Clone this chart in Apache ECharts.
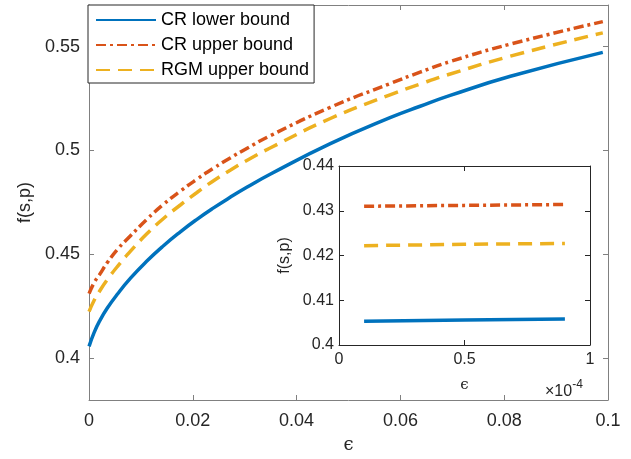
<!DOCTYPE html>
<html>
<head>
<meta charset="utf-8">
<script src="https://cdn.jsdelivr.net/npm/echarts@6/dist/echarts.min.js"></script>
<style>html,body{margin:0;padding:0;background:#fff}#c{width:631px;height:459px}</style>
</head>
<body>
<div id="c"></div>
<script>
// ---- data ----
const mainX    = [0.00001, 0.001, 0.002, 0.0035, 0.0055, 0.008, 0.0111, 0.0143, 0.0176, 0.0208, 0.024, 0.0272, 0.0304, 0.0349, 0.0465, 0.058, 0.0638, 0.0696, 0.0812, 0.099];
const crLower  = [0.4058, 0.4125, 0.4178, 0.4241, 0.4310, 0.4386, 0.4467, 0.4541, 0.4609, 0.4669, 0.4724, 0.4775, 0.4823, 0.4886, 0.5033, 0.5158, 0.5213, 0.5265, 0.5357, 0.5472];
const crUpper  = [0.4312, 0.4365, 0.4402, 0.4460, 0.4525, 0.4590, 0.4668, 0.4740, 0.4805, 0.4862, 0.4915, 0.4964, 0.5010, 0.5071, 0.5208, 0.5322, 0.5377, 0.5428, 0.5512, 0.5620];
const rgmUpper = [0.4225, 0.4280, 0.4322, 0.4378, 0.4443, 0.4516, 0.4598, 0.4672, 0.4738, 0.4798, 0.4855, 0.4905, 0.4952, 0.5012, 0.5154, 0.5268, 0.5320, 0.5368, 0.5454, 0.5566];

const insetX        = [0.1, 0.5, 0.9];      // in units of 1e-4
const insetCrLower  = [0.4053, 0.4056, 0.4058];
const insetCrUpper  = [0.4310, 0.4312, 0.4314];
const insetRgmUpper = [0.4222, 0.4225, 0.4227];

const mainYTicks = [0.4, 0.45, 0.5, 0.55];
const seriesNames = ['CR lower bound', 'CR upper bound', 'RGM upper bound'];

// ---- styles ----
const colors = ['#0072BD', '#D95319', '#EDB120'];
const dashes = ['solid', [10, 4, 3, 4], [14, 8]];
const FONT = 'Liberation Sans';
const TXT = '#262626';
const fmt = v => String(+v.toFixed(4));

function pairs(xs, ys) { return xs.map((x, i) => [x, ys[i]]); }

const chart = echarts.init(document.getElementById('c'), null, {renderer: 'canvas'});

function xAx(grid, pos, min, max, interval, showLabel, fs, color, extra) {
  return Object.assign({
    type: 'value', gridIndex: grid, position: pos, min, max, interval,
    axisLine: {show: true, onZero: false, lineStyle: {color, width: 1}},
    axisTick: {show: true, inside: true, length: 5, lineStyle: {color}},
    axisLabel: {show: showLabel, fontSize: fs, color: TXT, fontFamily: FONT, formatter: fmt},
    splitLine: {show: false}
  }, extra || {});
}

const lineW = 3.5;
const mainSeries = [crLower, crUpper, rgmUpper].map((ys, i) => ({
  name: seriesNames[i], type: 'line', xAxisIndex: 0, yAxisIndex: 0,
  data: pairs(mainX, ys), symbol: 'none', smooth: 0.5,
  lineStyle: {color: colors[i], width: lineW, type: dashes[i], cap: 'butt'},
  itemStyle: {color: colors[i]}, z: 3
}));
const insetSeries = [insetCrLower, insetCrUpper, insetRgmUpper].map((ys, i) => ({
  name: seriesNames[i], type: 'line', xAxisIndex: 2, yAxisIndex: 2,
  data: pairs(insetX, ys), symbol: 'none',
  lineStyle: {color: colors[i], width: lineW, type: dashes[i], cap: 'butt'},
  itemStyle: {color: colors[i]}, z: 5
}));

const option = {
  animation: false,
  backgroundColor: '#fff',
  textStyle: {fontFamily: FONT},
  grid: [
    {left: 89, right: 23, top: 5, bottom: 52, show: false},
    {left: 339, right: 41, top: 166, bottom: 114, show: true, backgroundColor: '#fff', borderWidth: 0, z: 4}
  ],
  legend: {
    data: seriesNames, orient: 'vertical', left: 88, top: 5,
    backgroundColor: '#fff', borderColor: TXT, borderWidth: 1,
    padding: [6, 5, 4, 7], itemWidth: 60, itemHeight: 14, itemGap: 7,
    itemStyle: {opacity: 0},
    textStyle: {fontSize: 18, color: '#000', fontFamily: FONT},
    selectedMode: false, z: 10
  },
  xAxis: [
    xAx(0, 'bottom', 0, 0.1, 0.02, true, 18, '#808080', {
      axisLabel: {show: true, fontSize: 18, color: TXT, fontFamily: FONT, margin: 12, formatter: fmt},
      name: 'ϵ', nameLocation: 'middle', nameGap: 36,
      nameTextStyle: {fontSize: 18, color: TXT, fontFamily: 'DejaVu Serif'}
    }),
    xAx(0, 'top', 0, 0.1, 0.02, false, 18, '#808080'),
    xAx(1, 'bottom', 0, 1, 0.5, true, 16, TXT, {
      axisLabel: {show: true, fontSize: 16, color: TXT, fontFamily: FONT, margin: 7, formatter: fmt},
      name: 'ϵ', nameLocation: 'middle', nameGap: 33,
      nameTextStyle: {fontSize: 15, color: TXT, fontFamily: 'DejaVu Serif'}, z: 6
    }),
    xAx(1, 'top', 0, 1, 0.5, false, 16, TXT, {z: 6})
  ],
  yAxis: [
    xAx(0, 'left', 0.38, 0.57, null, true, 18, '#808080', {
      axisLabel: {show: true, fontSize: 18, color: TXT, fontFamily: FONT, margin: 9, formatter: fmt, customValues: mainYTicks},
      axisTick: {show: true, inside: true, length: 5, lineStyle: {color: '#808080'}, customValues: mainYTicks},
      name: 'f(s,p)', nameLocation: 'middle', nameGap: 55, nameRotate: 90,
      nameTextStyle: {fontSize: 18, color: TXT, fontFamily: FONT}
    }),
    xAx(0, 'right', 0.38, 0.57, null, false, 18, '#808080', {
      axisTick: {show: true, inside: true, length: 5, lineStyle: {color: '#808080'}, customValues: mainYTicks}
    }),
    xAx(1, 'left', 0.4, 0.44, 0.01, true, 16, TXT, {
      axisLabel: {show: true, fontSize: 16, color: TXT, fontFamily: FONT, margin: 5, formatter: fmt},
      name: 'f(s,p)', nameLocation: 'middle', nameGap: 46, nameRotate: 90,
      nameTextStyle: {fontSize: 16, color: TXT, fontFamily: FONT}, z: 6
    }),
    xAx(1, 'right', 0.4, 0.44, 0.01, false, 16, TXT, {z: 6})
  ],
  graphic: [{
    type: 'text', left: 545, top: 379, z: 20,
    style: {
      text: '{a|×10}{b|-4}',
      rich: {
        a: {fontSize: 16, fill: TXT, fontFamily: FONT, verticalAlign: 'bottom'},
        b: {fontSize: 12, fill: TXT, fontFamily: FONT, verticalAlign: 'top', padding: [0, 0, 9, 0]}
      }
    }
  }],
  series: mainSeries.concat(insetSeries)
};
chart.setOption(option);
</script>
</body>
</html>
